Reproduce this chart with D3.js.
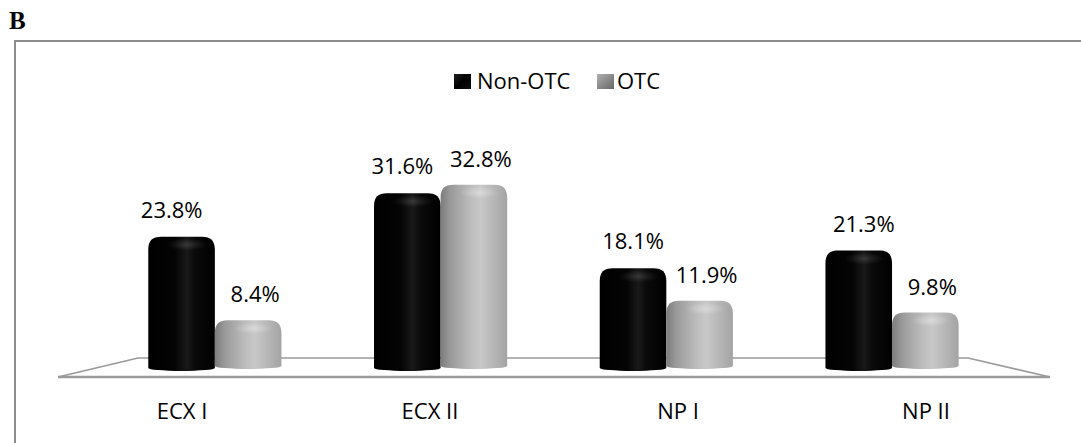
<!DOCTYPE html>
<html>
<head>
<meta charset="utf-8">
<script src="https://cdn.jsdelivr.net/npm/d3@7"></script>
<style>
  html, body { margin: 0; padding: 0; background: #fff; }
  svg { display: block; }
  text { font-family: "Open Sans", sans-serif; fill: #000; }
</style>
</head>
<body>
<svg id="chart" width="1081" height="443"></svg>
<script>
// ---- data ----
const categories = ["ECX I", "ECX II", "NP I", "NP II"];
const seriesNames = ["Non-OTC", "OTC"];
const nonOtcValues = [23.8, 31.6, 18.1, 21.3];
const otcValues = [8.4, 32.8, 11.9, 9.8];
const valueLabels = [
  ["23.8%", "31.6%", "18.1%", "21.3%"],
  ["8.4%", "32.8%", "11.9%", "9.8%"]
];
const panelLabel = "B";

const series = [nonOtcValues, otcValues];

const svg = d3.select("#chart");
const W = 1081, H = 443;

// ---- defs (gradients) ----
const defs = svg.append("defs");
function linGrad(id, stops, x2 = "100%", y2 = "0%") {
  const g = defs.append("linearGradient").attr("id", id)
    .attr("x1", "0%").attr("y1", "0%").attr("x2", x2).attr("y2", y2);
  stops.forEach(([o, c, op]) => g.append("stop").attr("offset", o).attr("stop-color", c).attr("stop-opacity", op == null ? 1 : op));
}
linGrad("gBlack", [["0%", "#000"], ["40%", "#040404"], ["58%", "#191919"], ["70%", "#0a0a0a"], ["100%", "#000"]]);
linGrad("gGrey", [["0%", "#7c7c7c"], ["15%", "#9a9a9a"], ["45%", "#bcbcbc"], ["60%", "#c8c8c8"], ["80%", "#b6b6b6"], ["100%", "#a4a4a4"]]);
linGrad("gLegBlack", [["0%", "#222"], ["50%", "#000"], ["100%", "#111"]], "100%", "100%");
linGrad("gLegGrey", [["0%", "#b0b0b0"], ["50%", "#8a8a8a"], ["100%", "#666"]], "100%", "100%");
const rg = defs.append("radialGradient").attr("id", "gCap");
rg.append("stop").attr("offset", "0%").attr("stop-color", "#fff").attr("stop-opacity", 0.55);
rg.append("stop").attr("offset", "100%").attr("stop-color", "#fff").attr("stop-opacity", 0);
const fills = ["url(#gBlack)", "url(#gGrey)"];
const capOpacity = [0.25, 0.6];

// ---- frame ----
svg.append("text").text(panelLabel)
  .attr("x", 9).attr("y", 29)
  .style("font-family", "'Liberation Serif', 'DejaVu Serif', serif")
  .style("font-weight", "bold").style("font-size", "25px");
svg.append("path")
  .attr("d", `M15,${H} L15,41 L${W},41`)
  .attr("fill", "none").attr("stroke", "#8c8c8c").attr("stroke-width", 2);

// ---- floor (3D base plane) ----
const floorBack = { y: 358, x0: 138, x1: 968 };
const floorFront = { y: 377, x0: 58, x1: 1050 };
svg.append("path")
  .attr("d", `M${floorFront.x0},${floorFront.y} L${floorBack.x0},${floorBack.y} L${floorBack.x1},${floorBack.y} L${floorFront.x1},${floorFront.y}`)
  .attr("fill", "none").attr("stroke", "#9a9a9a").attr("stroke-width", 1.6);
svg.append("line")
  .attr("x1", floorFront.x0).attr("x2", floorFront.x1)
  .attr("y1", floorFront.y).attr("y2", floorFront.y)
  .attr("stroke", "#9a9a9a").attr("stroke-width", 2.4);

// ---- scales ----
const depthT = 0.45;
const barRangeX0 = floorBack.x0 + (floorFront.x0 - floorBack.x0) * depthT;
const barRangeX1 = floorBack.x1 + (floorFront.x1 - floorBack.x1) * depthT;
const x = d3.scaleBand().domain(categories).range([barRangeX0, barRangeX1])
  .paddingInner(0.41).paddingOuter(0.205);
const xs = d3.scaleBand().domain(seriesNames).range([0, x.bandwidth()]);
const xLabel = d3.scaleBand().domain(categories).range([floorFront.x0, floorFront.x1]);
const y = d3.scaleLinear().domain([0, 35]).range([369, 369 - 35 * 5.56]);
const baseShift = [0, -2];

// ---- cylinders ----
function cylPath(x0, w, top, bottom) {
  const r = Math.min(13, (bottom - top) / 2);
  const ry = 3;
  return `M${x0},${bottom - ry}` +
    `L${x0},${top + r}` +
    `C${x0},${top + r * 0.3} ${x0 + r * 0.3},${top} ${x0 + r},${top}` +
    `L${x0 + w - r},${top}` +
    `C${x0 + w - r * 0.3},${top} ${x0 + w},${top + r * 0.3} ${x0 + w},${top + r}` +
    `L${x0 + w},${bottom - ry}` +
    `A${w / 2},${ry} 0 0 1 ${x0},${bottom - ry}Z`;
}

const bars = [];
categories.forEach((c, i) => {
  seriesNames.forEach((s, j) => {
    const v = series[j][i];
    const x0 = x(c) + xs(s);
    const w = xs.bandwidth();
    const bottom = y(0) + 2 + baseShift[j];
    const top = y(v) + baseShift[j];
    bars.push({ c, s, j, v, x0, w, top, bottom, label: valueLabels[j][i] });
  });
});

const g = svg.append("g");
bars.forEach(b => {
  g.append("path").attr("d", cylPath(b.x0, b.w, b.top, b.bottom)).attr("fill", fills[b.j]);
  g.append("ellipse")
    .attr("cx", b.x0 + b.w * 0.58).attr("cy", b.top + 8)
    .attr("rx", b.w * 0.3).attr("ry", 6)
    .attr("fill", "url(#gCap)").attr("opacity", capOpacity[b.j]);
});

// ---- value labels ----
bars.forEach(b => {
  const cx = b.x0 + b.w / 2;
  const lx = b.j === 0 ? cx + (cx - 540) * 0.022 - 2 : cx + 7;
  const ly = b.j === 0 ? b.top - 19 : b.top - 18;
  svg.append("text").text(b.label)
    .attr("x", lx).attr("y", ly)
    .attr("text-anchor", "middle").style("font-size", "22px");
});

// ---- category labels ----
svg.append("g").selectAll("text").data(categories).join("text")
  .text(d => d)
  .attr("x", d => xLabel(d) + xLabel.bandwidth() / 2)
  .attr("y", 419)
  .attr("text-anchor", "middle").style("font-size", "22px");

// ---- legend ----
const legend = [
  { name: seriesNames[0], sx: 454, tx: 477, fill: "url(#gLegBlack)" },
  { name: seriesNames[1], sx: 597, tx: 617, fill: "url(#gLegGrey)" }
];
legend.forEach(l => {
  svg.append("rect").attr("x", l.sx).attr("y", 74).attr("width", 17).attr("height", 15).attr("fill", l.fill);
  svg.append("text").text(l.name).attr("x", l.tx).attr("y", 89).style("font-size", "22px");
});
</script>
</body>
</html>
